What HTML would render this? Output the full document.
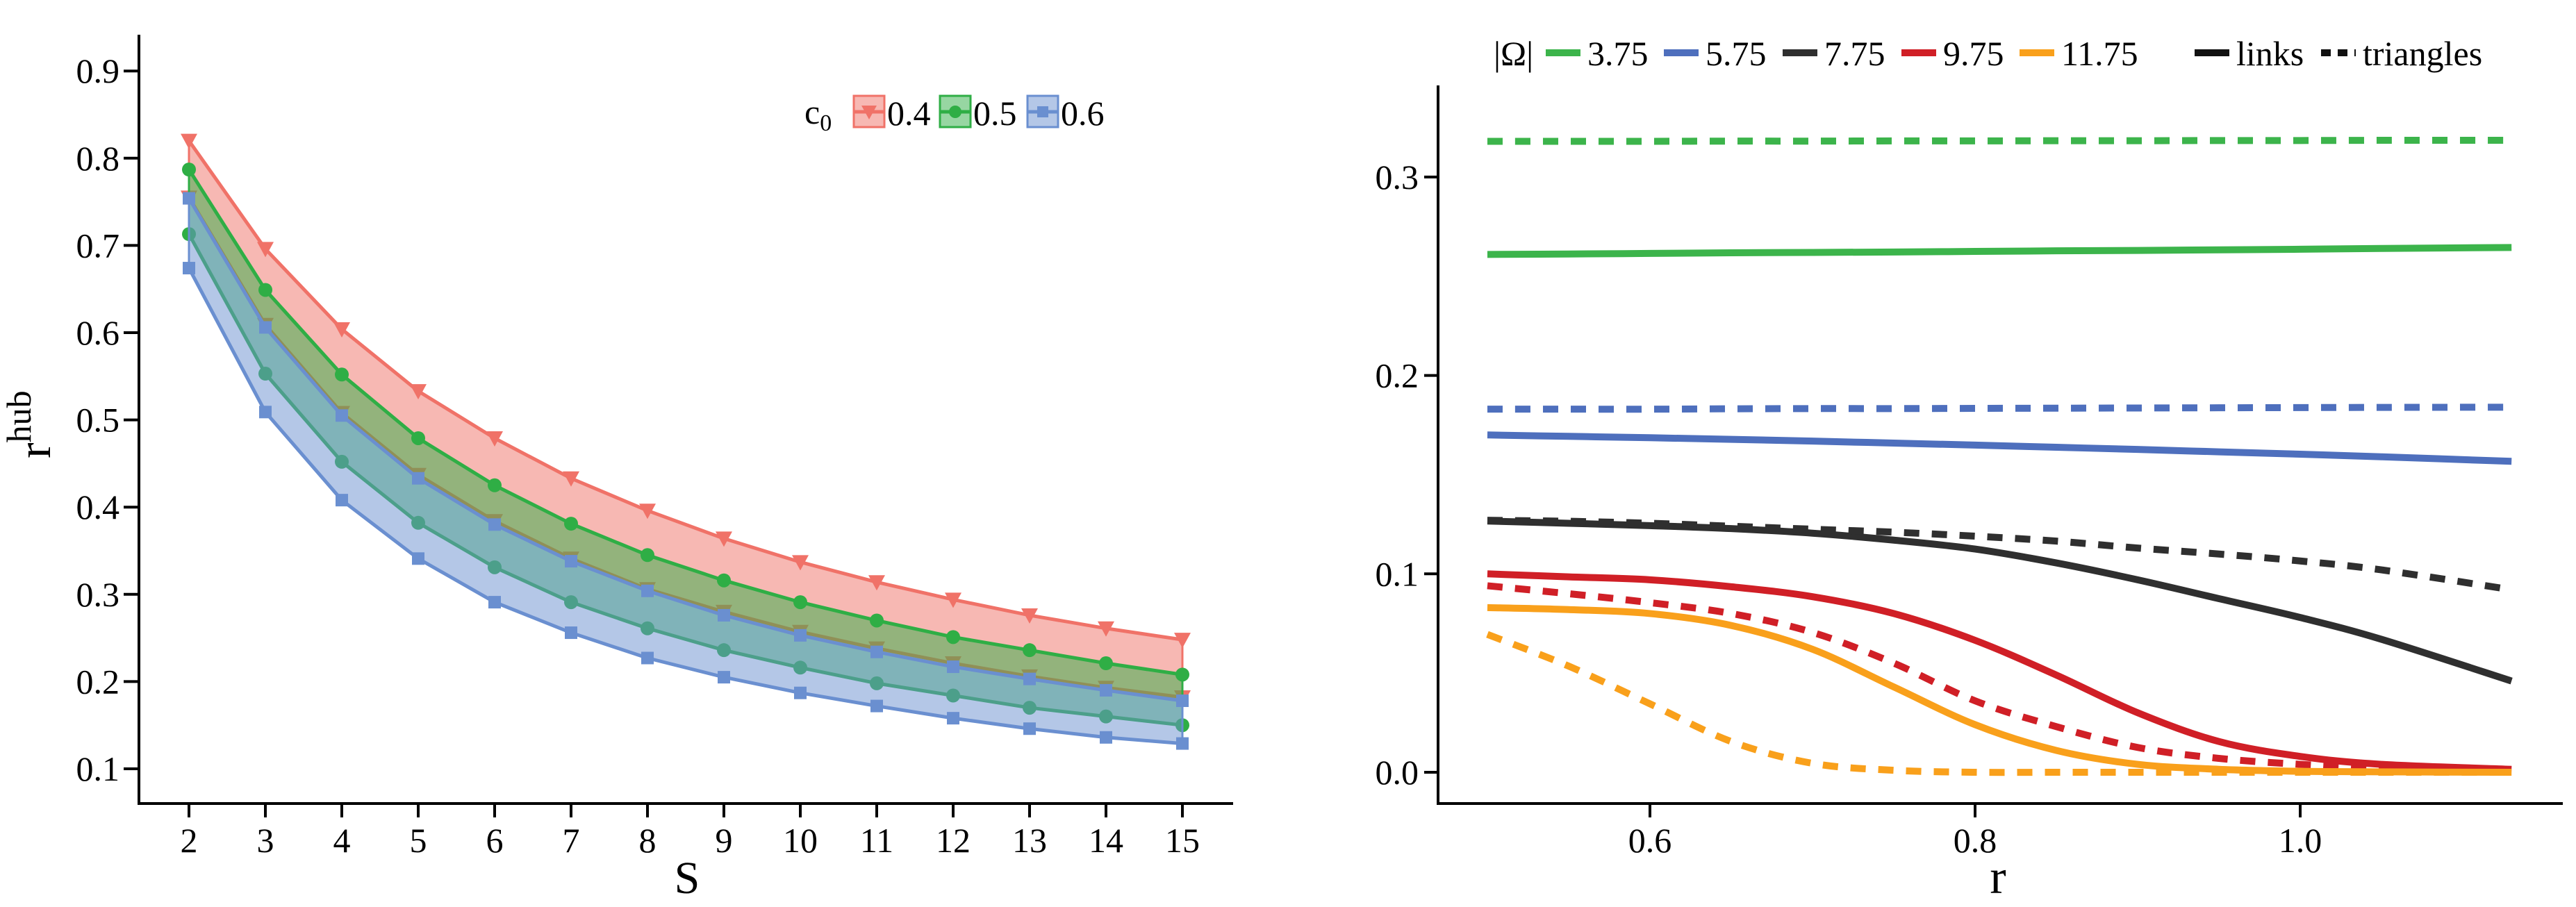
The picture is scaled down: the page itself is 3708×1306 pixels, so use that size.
<!DOCTYPE html>
<html><head><meta charset="utf-8"><style>
html,body{margin:0;padding:0;background:#fff;}
svg{display:block;}
svg text{font-family:"Liberation Serif","Times New Roman",serif;}
</style></head><body>
<svg id="chart" width="3708" height="1306" viewBox="0 0 3708 1306" xmlns="http://www.w3.org/2000/svg" font-family="Liberation Serif, serif"></svg>
<script>
// ---- Left chart data ----
const sValues = [2,3,4,5,6,7,8,9,10,11,12,13,14,15];
const leftYTicks = [0.1,0.2,0.3,0.4,0.5,0.6,0.7,0.8,0.9];
const red04Upper = [0.82,0.696,0.604,0.533,0.479,0.433,0.396,0.364,0.337,0.314,0.294,0.276,0.261,0.248];
const red04Lower = [0.755,0.609,0.508,0.437,0.384,0.341,0.306,0.280,0.257,0.238,0.221,0.206,0.193,0.182];
const green05Upper = [0.787,0.649,0.552,0.479,0.425,0.381,0.345,0.316,0.291,0.270,0.251,0.236,0.221,0.208];
const green05Lower = [0.713,0.553,0.452,0.382,0.331,0.291,0.261,0.236,0.216,0.198,0.184,0.170,0.160,0.150];
const blue06Upper = [0.754,0.606,0.505,0.433,0.380,0.338,0.304,0.276,0.253,0.234,0.217,0.203,0.190,0.178];
const blue06Lower = [0.674,0.509,0.408,0.341,0.291,0.256,0.227,0.205,0.187,0.172,0.158,0.146,0.136,0.129];
// ---- Right chart data ----
const rTicks = [0.6,0.8,1.0];
const rightYTicks = [0.0,0.1,0.2,0.3];
const rGrid = [0.5,0.55,0.6,0.65,0.7,0.75,0.8,0.85,0.9,0.95,1.0,1.05,1.13];
const g375Links = [0.261,0.2612,0.2615,0.2618,0.262,0.2622,0.2625,0.2628,0.263,0.2633,0.2636,0.264,0.2645];
const g375Tri = [0.318,0.318,0.318,0.3181,0.3181,0.3182,0.3182,0.3183,0.3183,0.3184,0.3184,0.3185,0.3185];
const b575Links = [0.170,0.1693,0.1686,0.1678,0.1669,0.1659,0.1649,0.1638,0.1627,0.1615,0.1603,0.159,0.1567];
const b575Tri = [0.183,0.183,0.183,0.1832,0.1833,0.1833,0.1834,0.1835,0.1836,0.1837,0.1838,0.1839,0.184];
const k775Links = [0.1266,0.1255,0.1243,0.1228,0.1205,0.117,0.1125,0.1055,0.097,0.0875,0.078,0.067,0.046];
const k775Tri = [0.127,0.1265,0.1255,0.124,0.1225,0.121,0.119,0.1165,0.113,0.110,0.1065,0.102,0.092];
const r975Links = [0.1,0.0985,0.097,0.0935,0.0885,0.080,0.0665,0.049,0.030,0.0155,0.008,0.004,0.0015];
const r975Tri = [0.094,0.090,0.0855,0.080,0.0705,0.055,0.036,0.023,0.0125,0.007,0.004,0.002,0.001];
const o1175Links = [0.083,0.082,0.080,0.074,0.062,0.043,0.024,0.011,0.004,0.0015,0.0005,0.0002,0.0];
const o1175Tri = [0.0695,0.0535,0.0345,0.0155,0.0045,0.001,0.0,0.0,0.0,0.0,0.0,0.0,0.0];

const NS="http://www.w3.org/2000/svg";
const svg=document.getElementById('chart');
const FF='Liberation Serif, Times New Roman, serif';
function el(tag,attrs,parent){const e=document.createElementNS(NS,tag);for(const k in attrs)e.setAttribute(k,attrs[k]);if(tag==='text')e.setAttribute('font-family',FF);(parent||svg).appendChild(e);return e;}

// ---- Left axes ----
const Lx0=200, LxEnd=1775, LyAxis=1157, LyTop=50;
const sx=s=>272+(s-2)*110.0;
const ly=v=>1107-(v-0.1)*1256;
const left=el('g',{});



function band(up,lo,color,name){
  let d='M'+sValues.map((s,i)=>sx(s)+','+ly(up[i])).join('L');
  for(let i=sValues.length-1;i>=0;i--) d+='L'+sx(sValues[i])+','+ly(lo[i]);
  d+='Z';
  const p=el('path',{d:d,fill:color,'fill-opacity':0.5,stroke:color,'stroke-width':3},left);
  
  
}
function line(vals,color,name,marker){
  const d='M'+sValues.map((s,i)=>sx(s)+','+ly(vals[i])).join('L');
  const p=el('path',{d:d,fill:'none',stroke:color,'stroke-width':5},left);
  
  
  sValues.forEach((s,i)=>{
    const x=sx(s),y=ly(vals[i]);let m;
    if(marker==='tri') m=el('path',{d:`M${x-12},${y-10}L${x+12},${y-10}L${x},${y+12}Z`,fill:color},left);
    else if(marker==='circ') m=el('circle',{cx:x,cy:y,r:10,fill:color},left);
    else m=el('rect',{x:x-9,y:y-9,width:18,height:18,fill:color},left);
    
    
  });
}
const RED='#f07268',GREEN='#2fae45',BLUE='#6a8fd0';
band(red04Upper,red04Lower,RED,'c0-0.4');
line(red04Upper,RED,'c0-0.4-upper','tri');line(red04Lower,RED,'c0-0.4-lower','tri');
band(green05Upper,green05Lower,GREEN,'c0-0.5');
line(green05Upper,GREEN,'c0-0.5-upper','circ');line(green05Lower,GREEN,'c0-0.5-lower','circ');
band(blue06Upper,blue06Lower,BLUE,'c0-0.6');
line(blue06Upper,BLUE,'c0-0.6-upper','sq');line(blue06Lower,BLUE,'c0-0.6-lower','sq');

let a=el('path',{d:`M${Lx0},${LyTop}V${LyAxis}H${LxEnd}`,fill:'none',stroke:'#000','stroke-width':4},left);

leftYTicks.forEach(v=>{
  el('line',{x1:178,x2:Lx0,y1:ly(v),y2:ly(v),stroke:'#000','stroke-width':4},left);
  const t=el('text',{x:172,y:ly(v)+17,'font-size':50,'text-anchor':'end'},left);
  t.textContent=v.toFixed(1);
  
});
sValues.forEach(s=>{
  el('line',{x1:sx(s),x2:sx(s),y1:LyAxis,y2:LyAxis+20,stroke:'#000','stroke-width':4},left);
  const t=el('text',{x:sx(s),y:LyAxis+70,'font-size':50,'text-anchor':'middle'},left);
  t.textContent=s;
  
});
let t=el('text',{x:989,y:1286,'font-size':66,'text-anchor':'middle'},left);t.textContent='S';

t=el('text',{transform:'translate(72,660) rotate(-90)','font-size':68},left);
t.innerHTML='r<tspan dy="-28" font-size="50">hub</tspan>';

// left legend
t=el('text',{x:1158,y:178,'font-size':50},left);t.innerHTML='c<tspan dy="10" font-size="34">0</tspan>';

[[1229,RED,'0.4','tri'],[1353,GREEN,'0.5','circ'],[1479,BLUE,'0.6','sq']].forEach(([x,c,lab,m])=>{
  const g=el('g',{},left);
  
  el('rect',{x:x,y:138,width:44,height:45,fill:c,'fill-opacity':0.5,stroke:c,'stroke-width':3},g);
  el('line',{x1:x,x2:x+44,y1:161,y2:161,stroke:c,'stroke-width':5},g);
  const cx=x+22,cy=161;
  if(m==='tri') el('path',{d:`M${cx-11},${cy-9}L${cx+11},${cy-9}L${cx},${cy+11}Z`,fill:c},g);
  else if(m==='circ') el('circle',{cx:cx,cy:cy,r:9,fill:c},g);
  else el('rect',{x:cx-8,y:cy-8,width:16,height:16,fill:c},g);
  const tt=el('text',{x:x+48,y:180,'font-size':50},g);tt.textContent=lab;
});

// ---- Right chart ----
const right=el('g',{});


const rx=r=>2375+(r-0.6)*2340;
const ry=v=>1112-v*2857;
const series=[
 [g375Links,'#3cb44b',false,'omega-3.75-links'],[g375Tri,'#3cb44b',true,'omega-3.75-triangles'],
 [b575Links,'#4e6fbd',false,'omega-5.75-links'],[b575Tri,'#4e6fbd',true,'omega-5.75-triangles'],
 [k775Links,'#2f2f2f',false,'omega-7.75-links'],[k775Tri,'#2f2f2f',true,'omega-7.75-triangles'],
 [r975Links,'#d01f26',false,'omega-9.75-links'],[r975Tri,'#d01f26',true,'omega-9.75-triangles'],
 [o1175Links,'#f9a01b',false,'omega-11.75-links'],[o1175Tri,'#f9a01b',true,'omega-11.75-triangles']];
series.forEach(([vals,c,dash,name])=>{
  const pts=rGrid.map((r,i)=>[rx(r),ry(vals[i])]);
  let d='M'+pts[0][0]+','+pts[0][1];
  for(let i=0;i<pts.length-1;i++){
    const p0=pts[Math.max(0,i-1)],p1=pts[i],p2=pts[i+1],p3=pts[Math.min(pts.length-1,i+2)];
    d+=`C${p1[0]+(p2[0]-p0[0])/6},${p1[1]+(p2[1]-p0[1])/6} ${p2[0]-(p3[0]-p1[0])/6},${p2[1]-(p3[1]-p1[1])/6} ${p2[0]},${p2[1]}`;
  }
  const attrs={d:d,fill:'none',stroke:c,'stroke-width':10};
  if(dash) attrs['stroke-dasharray']='22 18';
  const p=el('path',attrs,right);
  
  
});
a=el('path',{d:`M2070,123V1157H3689`,fill:'none',stroke:'#000','stroke-width':4},right);

rightYTicks.forEach(v=>{
  el('line',{x1:2050,x2:2070,y1:ry(v),y2:ry(v),stroke:'#000','stroke-width':4},right);
  const tt=el('text',{x:2042,y:ry(v)+17,'font-size':50,'text-anchor':'end'},right);
  tt.textContent=v.toFixed(1);
  
});
rTicks.forEach(r=>{
  el('line',{x1:rx(r),x2:rx(r),y1:1157,y2:1177,stroke:'#000','stroke-width':4},right);
  const tt=el('text',{x:rx(r),y:1227,'font-size':50,'text-anchor':'middle'},right);
  tt.textContent=r.toFixed(1);
  
});
t=el('text',{x:2876,y:1286,'font-size':70,'text-anchor':'middle'},right);t.textContent='r';

// right legend
t=el('text',{x:2150,y:94,'font-size':50},right);t.textContent='|Ω|';

[[2225,'#3cb44b','3.75',false],[2395,'#4e6fbd','5.75',false],[2566,'#2f2f2f','7.75',false],
 [2737,'#d01f26','9.75',false],[2907,'#f9a01b','11.75',false],[3159,'#111','links',false],[3341,'#111','triangles',true]].forEach(([x,c,lab,dash])=>{
  const g=el('g',{},right);
  
  const at={x1:x,x2:x+50,y1:76,y2:76,stroke:c,'stroke-width':10};
  if(dash) at['stroke-dasharray']='14 10';
  el('line',at,g);
  const tt=el('text',{x:x+60,y:94,'font-size':50},g);tt.textContent=lab;
});
</script>
</body></html>
